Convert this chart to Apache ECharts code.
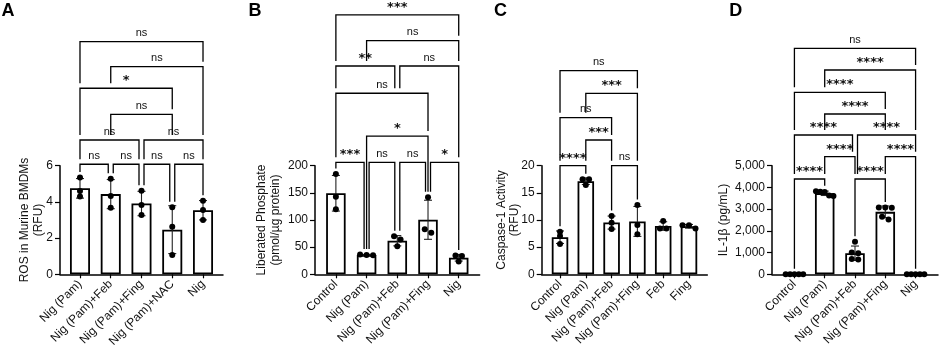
<!DOCTYPE html>
<html>
<head>
<meta charset="utf-8">
<title>ROS / phosphate / caspase-1 / IL-1β</title>
<script src="https://cdn.jsdelivr.net/npm/echarts@6.0.0/dist/echarts.min.js"></script>
<style>
  html, body { margin: 0; padding: 0; background: #fff; }
  #chart { width: 941px; height: 352px; }
</style>
</head>
<body>
<div id="chart"></div>
<script>
// ---- A: ROS in murine BMDMs
const catsA = ['Nig (Pam)', 'Nig (Pam)+Feb', 'Nig (Pam)+Fing', 'Nig (Pam)+NAC', 'Nig'];
const ptsA = [[5.35, 4.6, 4.3], [5.28, 4.33, 3.68], [4.62, 3.83, 3.28], [3.7, 2.63, 1.07], [4.07, 3.55, 3.0]];
const ticksA = [0, 2, 4, 6];
// [from, to, height, label]
const bracketsA = [
  [0, 1, 6.08, 'ns'], [1, 2, 6.08, 'ns'], [2, 3, 6.08, 'ns'], [3, 4, 6.08, 'ns'],
  [0, 2, 7.42, 'ns'], [2, 4, 7.42, 'ns'],
  [1, 3, 8.84, 'ns'],
  [0, 3, 10.28, '*'],
  [1, 4, 11.47, 'ns'],
  [0, 4, 12.85, 'ns']
];

// ---- B: liberated phosphate
const catsB = ['Control', 'Nig (Pam)', 'Nig (Pam)+Feb', 'Nig (Pam)+Fing', 'Nig'];
const ptsB = [[184.7, 143, 120], [35, 36.5, 35.5], [70, 64, 51.5], [141.8, 76.6, 82.8], [34.5, 33.5, 23.5]];
const ticksB = [0, 50, 100, 150, 200];
const bracketsB = [
  [0, 1, 206.3, '***'], [1, 2, 206.3, 'ns'], [2, 3, 206.3, 'ns'], [3, 4, 206.3, '*'],
  [1, 3, 254.5, '*'],
  [0, 3, 333.4, 'ns'],
  [0, 2, 383.6, '**'], [2, 4, 383.6, 'ns'],
  [1, 4, 430.3, 'ns'],
  [0, 4, 477.7, '***']
];

// ---- C: caspase-1 activity
const catsC = ['Control', 'Nig (Pam)', 'Nig (Pam)+Feb', 'Nig (Pam)+Fing', 'Feb', 'Fing'];
const ptsC = [[7.85, 7.05, 5.58], [17.5, 17.5, 16.45], [10.74, 9.5, 8.34], [12.76, 9.08, 7.37], [9.8, 8.45, 8.45], [8.45, 9.02, 9.05]];
const ticksC = [0, 5, 10, 15, 20];
const bracketsC = [
  [0, 1, 20.0, '****'], [2, 3, 20.0, 'ns'],
  [1, 2, 24.73, '***'],
  [0, 2, 28.84, 'ns'],
  [1, 3, 33.33, '***'],
  [0, 3, 37.5, 'ns']
];

// ---- D: IL-1β
const catsD = ['Control', 'Nig (Pam)', 'Nig (Pam)+Feb', 'Nig (Pam)+Fing', 'Nig'];
const ptsD = [[0, 0, 0, 0, 0], [3820, 3800, 3790, 3630, 3610], [1500, 1000, 970, 700, 680], [3080, 3070, 3060, 2650, 2520], [0, 0, 0, 0, 0]];
const ticksD = [0, 1000, 2000, 3000, 4000, 5000];
const bracketsD = [
  [0, 1, 4388, '****'], [2, 3, 4388, '****'],
  [1, 2, 5414, '****'], [3, 4, 5414, '****'],
  [0, 2, 6413, '****'], [2, 4, 6413, '****'],
  [1, 3, 7380, '****'],
  [0, 3, 8379, '****'],
  [1, 4, 9406, '****'],
  [0, 4, 10405, 'ns']
];

const FONT = '"Liberation Sans", Arial, sans-serif';
const INK = '#111';
const GRID_TOP = 165.7;
const GRID_H = 108.6;

const panels = [
  { letter: 'A', letterX: 1.5, cats: catsA, pts: ptsA, ticks: ticksA, brackets: bracketsA,
    yName: 'ROS in Murine BMDMs\n(RFU)', nameGap: 15, left: 60, width: 163, pad: 0.65, barW: 20 },
  { letter: 'B', letterX: 248.5, cats: catsB, pts: ptsB, ticks: ticksB, brackets: bracketsB,
    yName: 'Liberated Phosphate\n(pmol/µg protein)', nameGap: 33, left: 315, width: 164.6, pad: 0.68, barW: 19.5 },
  { letter: 'C', letterX: 494, cats: catsC, pts: ptsC, ticks: ticksC, brackets: bracketsC,
    yName: 'Caspase-1 Activity\n(RFU)', nameGap: 20, left: 541.7, width: 165.6, pad: 0.71, barW: 16.5 },
  { letter: 'D', letterX: 729.3, cats: catsD, pts: ptsD, ticks: ticksD, brackets: bracketsD,
    yName: 'IL-1β (pg/mL)', nameGap: 42, left: 772, width: 166, pad: 0.74, barW: 19.5, comma: true }
];

function mean(a) {
  return a.reduce((s, v) => s + v, 0) / a.length;
}
function sd(a) {
  const m = mean(a);
  return Math.sqrt(a.reduce((s, v) => s + (v - m) * (v - m), 0) / (a.length - 1));
}

// points that sit at (almost) the same height are spread out sideways in a row
function swarm(vals, pxPerUnit, barW) {
  const order = vals.map((v, i) => i).sort((a, b) => vals[b] - vals[a]);
  const offs = vals.map(() => 0);
  let group = [];
  const flush = () => {
    const k = group.length;
    if (k > 1) {
      const step = Math.min(6.5, (barW - 2) / (k - 1));
      group.forEach((idx, j) => { offs[idx] = (j - (k - 1) / 2) * step; });
    }
    group = [];
  };
  order.forEach(idx => {
    if (group.length && (vals[group[group.length - 1]] - vals[idx]) * pxPerUnit > 3.5) flush();
    group.push(idx);
  });
  flush();
  return offs;
}

// side offsets where two brackets on one row meet, and where each leg stops:
// above the next lower bracket that runs under the leg, or else above the data
function bracketGeo(brs, spacing) {
  const sameRow = (a, b) => Math.abs(a[2] - b[2]) < 1e-9;
  const ends = brs.map(b => ({
    lo: brs.some(o => o !== b && sameRow(o, b) && o[1] === b[0]) ? 2.5 : 0,
    ro: brs.some(o => o !== b && sameRow(o, b) && o[0] === b[1]) ? -2.5 : 0
  }));
  const stopBelow = (bi, col, off) => {
    const x = col * spacing + off;
    let best = null;
    brs.forEach((o, oi) => {
      if (o[2] >= brs[bi][2]) return;
      const x0 = o[0] * spacing + ends[oi].lo - 0.1;
      const x1 = o[1] * spacing + ends[oi].ro + 0.1;
      if (x >= x0 && x <= x1 && (best === null || o[2] > best)) best = o[2];
    });
    return best;
  };
  return brs.map((b, i) => ({
    lo: ends[i].lo,
    ro: ends[i].ro,
    lStop: stopBelow(i, b[0], ends[i].lo),
    rStop: stopBelow(i, b[1], ends[i].ro)
  }));
}

const grid = [], xAxis = [], yAxis = [], series = [], graphic = [];

panels.forEach((p, k) => {
  const n = p.cats.length;
  const yMax = p.ticks[p.ticks.length - 1];
  const spacing = p.width / (n - 1 + 2 * p.pad);
  const pxPerUnit = GRID_H / yMax;
  p.means = p.pts.map(mean);
  p.sds = p.pts.map(sd);
  p.geo = bracketGeo(p.brackets, spacing);

  grid.push({ left: p.left, top: GRID_TOP, width: p.width, height: GRID_H, containLabel: false, outerBoundsMode: 'none' });

  xAxis.push({
    gridIndex: k,
    type: 'value',
    min: -p.pad,
    max: n - 1 + p.pad,
    splitLine: { show: false },
    axisLine: { show: true, onZero: false, lineStyle: { color: '#000', width: 1.5 } },
    axisTick: { show: true, length: 4, customValues: p.cats.map((c, i) => i), lineStyle: { color: '#000', width: 1.2 } },
    axisLabel: {
      customValues: p.cats.map((c, i) => i),
      formatter: v => p.cats[Math.round(v)],
      rotate: 45,
      margin: 8,
      fontFamily: FONT,
      fontSize: 12,
      color: INK
    }
  });

  yAxis.push({
    gridIndex: k,
    type: 'value',
    min: p.ticks[0],
    max: yMax,
    interval: p.ticks[1] - p.ticks[0],
    name: p.yName,
    nameLocation: 'middle',
    nameGap: p.nameGap,
    nameMoveOverlap: false,
    nameTextStyle: { fontFamily: FONT, fontSize: 12, lineHeight: 13.5, color: INK, align: 'center' },
    splitLine: { show: false },
    axisLine: { show: true, onZero: false, lineStyle: { color: '#000', width: 1.5 } },
    axisTick: { show: true, length: 5, lineStyle: { color: '#000', width: 1.2 } },
    axisLabel: {
      margin: 7,
      fontFamily: FONT,
      fontSize: 12,
      color: INK,
      formatter: v => p.comma ? v.toLocaleString('en-US') : String(v)
    }
  });

  series.push({
    type: 'bar',
    xAxisIndex: k,
    yAxisIndex: k,
    barWidth: p.barW,
    silent: true,
    itemStyle: { color: '#fff', borderColor: '#000', borderWidth: 1.8 },
    data: p.means.map((m, i) => [i, m]),
    z: 2
  });

  series.push({
    type: 'custom',
    xAxisIndex: k,
    yAxisIndex: k,
    silent: true,
    clip: false,
    encode: { x: 0, y: 1 },
    data: p.means.map((m, i) => [i, m, p.sds[i]]),
    renderItem: (params, api) => {
      const i = api.value(0), m = api.value(1), s = api.value(2);
      const hi = api.coord([i, m + s]);
      const lo = api.coord([i, m - s]);
      const st = { stroke: '#222', lineWidth: 1.1 };
      return {
        type: 'group',
        children: [
          { type: 'line', shape: { x1: hi[0], y1: hi[1], x2: lo[0], y2: lo[1] }, style: st },
          { type: 'line', shape: { x1: hi[0] - 4, y1: hi[1], x2: hi[0] + 4, y2: hi[1] }, style: st },
          { type: 'line', shape: { x1: lo[0] - 4, y1: lo[1], x2: lo[0] + 4, y2: lo[1] }, style: st }
        ]
      };
    },
    z: 3
  });

  const dots = [];
  p.pts.forEach((vals, i) => {
    const offs = swarm(vals, pxPerUnit, p.barW);
    vals.forEach((v, j) => dots.push([i + offs[j] / spacing, v]));
  });
  series.push({
    type: 'scatter',
    xAxisIndex: k,
    yAxisIndex: k,
    silent: true,
    symbolSize: 6,
    itemStyle: { color: '#000', opacity: 1 },
    data: dots,
    z: 5
  });

  series.push({
    type: 'custom',
    xAxisIndex: k,
    yAxisIndex: k,
    silent: true,
    clip: false,
    encode: { x: 0, y: 1 },
    data: p.brackets.map(b => [b[0], b[2]]),
    renderItem: (params, api) => {
      const b = p.brackets[params.dataIndex];
      const g = p.geo[params.dataIndex];
      const a = api.coord([b[0], b[2]]);
      const c = api.coord([b[1], b[2]]);
      const xl = a[0] + g.lo, xr = c[0] + g.ro, y = a[1];
      const legEnd = (col, stop) => {
        if (stop !== null) return api.coord([col, stop])[1] - 5;
        const errTop = api.coord([col, p.means[col] + p.sds[col]])[1];
        const dotTop = api.coord([col, Math.max(...p.pts[col])])[1] - 3.5;
        return Math.min(errTop, dotTop) - 2;
      };
      const isStar = b[3] !== 'ns';
      return {
        type: 'group',
        children: [
          {
            type: 'polyline',
            shape: { points: [[xl, legEnd(b[0], g.lStop)], [xl, y], [xr, y], [xr, legEnd(b[1], g.rStop)]] },
            style: { stroke: '#000', lineWidth: 1.3, fill: 'none' }
          },
          {
            type: 'text',
            style: {
              text: b[3],
              x: (xl + xr) / 2,
              y: isStar ? y - 1 : y - 3,
              align: 'center',
              verticalAlign: 'bottom',
              font: isStar ? 'bold 13px "DejaVu Sans", sans-serif' : '11px ' + FONT,
              fill: INK
            }
          }
        ]
      };
    },
    z: 4
  });

  graphic.push({
    type: 'text',
    left: p.letterX,
    top: 2,
    style: { text: p.letter, font: 'bold 18px ' + FONT, fill: '#000' }
  });
});

const chart = echarts.init(document.getElementById('chart'), null, { renderer: 'canvas' });
chart.setOption({
  animation: false,
  backgroundColor: '#fff',
  grid,
  xAxis,
  yAxis,
  series,
  graphic
});
</script>
</body>
</html>
